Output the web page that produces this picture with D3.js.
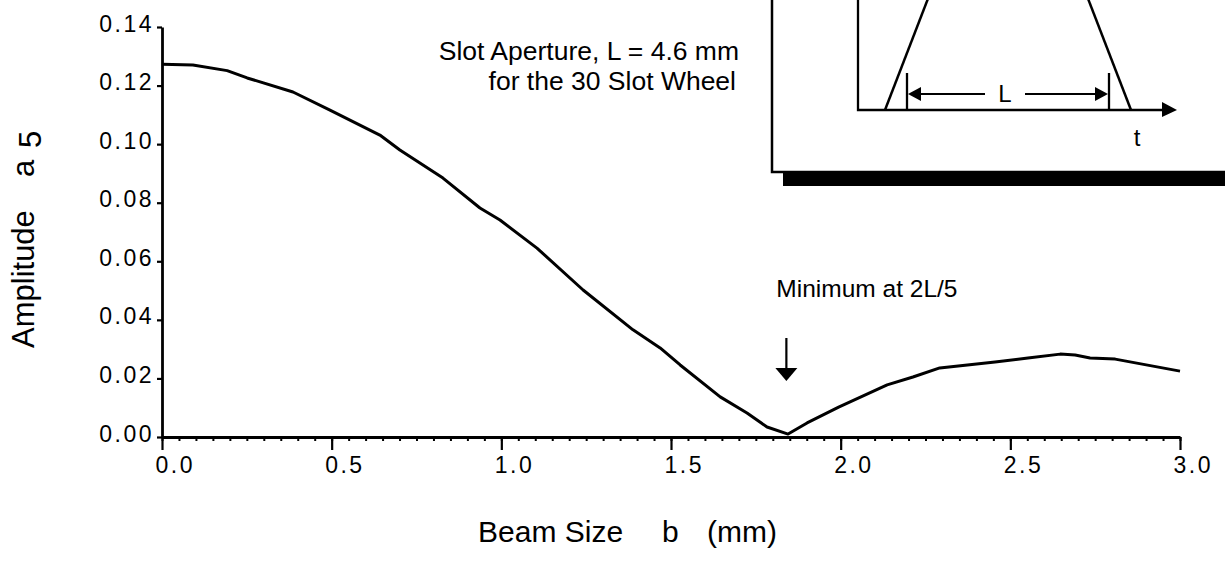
<!DOCTYPE html>
<html>
<head>
<meta charset="utf-8">
<script src="https://cdn.jsdelivr.net/npm/d3@7"></script>
<style>
  body { margin: 0; background: #fff; }
  svg { display: block; font-family: "Liberation Sans", Arial, Helvetica, sans-serif; }
</style>
</head>
<body>
<svg width="1225" height="561"></svg>
<script>
var svg = d3.select("svg"),
    width = +svg.attr("width"),
    height = +svg.attr("height");

// beam size b (mm) and amplitude a5
var beam = [0, 0.091, 0.192, 0.251, 0.386, 0.495, 0.642, 0.701, 0.828, 0.937, 0.996,
            1.105, 1.241, 1.388, 1.468, 1.527, 1.645, 1.724, 1.783, 1.845, 1.901,
            1.994, 2.137, 2.213, 2.292, 2.455, 2.552, 2.647, 2.691, 2.735, 2.809, 3.0];
var amp  = [0.1273, 0.1270, 0.1251, 0.1226, 0.1178, 0.1116, 0.1031, 0.0980, 0.0884, 0.0782, 0.0741,
            0.0645, 0.0502, 0.0366, 0.0304, 0.0246, 0.0137, 0.0082, 0.0034, 0.0010, 0.0048,
            0.0102, 0.0178, 0.0205, 0.0236, 0.0256, 0.0270, 0.0283, 0.0280, 0.0270, 0.0266, 0.0225];

var xTicks = [0, 0.5, 1.0, 1.5, 2.0, 2.5, 3.0];
var yTicks = [0, 0.02, 0.04, 0.06, 0.08, 0.10, 0.12, 0.14];

var slotL = 4.6;   // mm, minimum expected at 2L/5

var x = d3.scaleLinear().domain([0, 3]).range([162, 1180]);
var y = d3.scaleLinear().domain([0, 0.14]).range([437, 27]);

var data = beam.map(function(b, i){ return {b: b, a: amp[i]}; });

// minor ticks on x
svg.append("g")
    .attr("transform", "translate(0," + y(0) + ")")
    .call(d3.axisBottom(x).tickValues(x.ticks(60)).tickSize(4).tickFormat("").tickSizeOuter(0))
    .call(function(g){ g.select(".domain").remove(); })
    .selectAll("line").attr("stroke-width", 2);

// major x axis
var gx = svg.append("g")
    .attr("transform", "translate(0," + y(0) + ")")
    .call(d3.axisBottom(x).tickValues(xTicks).tickSize(13).tickSizeOuter(0).tickFormat(d3.format(".1f")));
gx.select(".domain").attr("stroke-width", 2.8);
gx.selectAll(".tick line").attr("stroke-width", 2.2);
gx.selectAll("text")
    .attr("fill", "#000")
    .attr("font-size", 23)
    .attr("letter-spacing", "2.5px")
    .attr("text-anchor", "start")
    .attr("x", -7)
    .attr("y", 36)
    .attr("dy", 0);

// y axis
var gy = svg.append("g")
    .attr("transform", "translate(" + x(0) + ",0)")
    .call(d3.axisLeft(y).tickValues(yTicks).tickSize(5).tickSizeOuter(0).tickFormat(d3.format(".2f")));
gy.select(".domain").attr("stroke-width", 2.8);
gy.selectAll(".tick line").attr("stroke-width", 2.2);
gy.selectAll("text")
    .attr("fill", "#000")
    .attr("font-size", 23)
    .attr("letter-spacing", "2.5px")
    .attr("x", -8)
    .attr("dy", 4);

// curve
svg.append("path")
    .datum(data)
    .attr("fill", "none")
    .attr("stroke", "#000")
    .attr("stroke-width", 3)
    .attr("stroke-linejoin", "round")
    .attr("d", d3.line()
        .x(function(d){ return x(d.b); })
        .y(function(d){ return y(d.a); }));

// axis titles
svg.append("text")
    .attr("x", 478).attr("y", 542)
    .attr("font-size", 30)
    .text("Beam Size");
svg.append("text")
    .attr("x", 662).attr("y", 542)
    .attr("font-size", 30)
    .text("b");
svg.append("text")
    .attr("x", 707).attr("y", 542)
    .attr("font-size", 30)
    .text("(mm)");

var ytitle = svg.append("text")
    .attr("transform", "translate(34,0) rotate(-90)")
    .attr("font-size", 31);
ytitle.append("tspan").attr("x", -348).text("Amplitude");
ytitle.append("tspan").attr("x", -177).text("a");
ytitle.append("tspan").attr("x", -148).attr("dy", 7).text("5");

// annotation: aperture
svg.append("text")
    .attr("x", 739).attr("y", 60)
    .attr("text-anchor", "end")
    .attr("font-size", 26.5)
    .text("Slot Aperture, L = 4.6 mm");
svg.append("text")
    .attr("x", 736).attr("y", 90)
    .attr("text-anchor", "end")
    .attr("font-size", 26.5)
    .text("for the 30 Slot Wheel");

// annotation: minimum arrow
var xm = x(2 * slotL / 5);
svg.append("text")
    .attr("x", xm - 10).attr("y", 297)
    .attr("font-size", 24.5)
    .text("Minimum at 2L/5");
svg.append("line")
    .attr("x1", xm).attr("x2", xm)
    .attr("y1", 338).attr("y2", 370)
    .attr("stroke", "#000").attr("stroke-width", 2.2);
svg.append("path")
    .attr("d", "M" + (xm - 11) + ",368 L" + (xm + 11) + ",368 L" + xm + ",381 Z")
    .attr("fill", "#000");

// inset: trapezoid slot profile
var inset = svg.append("g");
inset.append("rect")
    .attr("x", 783).attr("y", 173)
    .attr("width", 460).attr("height", 13)
    .attr("fill", "#000");
inset.append("path")
    .attr("d", "M772,-10 V172 H1240")
    .attr("fill", "none").attr("stroke", "#000").attr("stroke-width", 2.5);

var ax0 = 858, ay0 = 110;
inset.append("path")
    .attr("d", "M" + ax0 + ",-10 V" + ay0 + " H1165")
    .attr("fill", "none").attr("stroke", "#000").attr("stroke-width", 2.3);
inset.append("path")
    .attr("d", "M1162,102 L1177,110 L1162,117 Z")
    .attr("fill", "#000");
inset.append("line")
    .attr("x1", 885).attr("y1", ay0).attr("x2", 929).attr("y2", -4)
    .attr("stroke", "#000").attr("stroke-width", 2.5);
inset.append("line")
    .attr("x1", 1131).attr("y1", ay0).attr("x2", 1087).attr("y2", -4)
    .attr("stroke", "#000").attr("stroke-width", 2.5);

// L dimension
var lx1 = 907, lx2 = 1109, ly = 94;
inset.append("line").attr("x1", lx1).attr("x2", lx1).attr("y1", 73).attr("y2", ay0)
    .attr("stroke", "#000").attr("stroke-width", 2.3);
inset.append("line").attr("x1", lx2).attr("x2", lx2).attr("y1", 73).attr("y2", ay0)
    .attr("stroke", "#000").attr("stroke-width", 2.3);
inset.append("line").attr("x1", lx1 + 8).attr("x2", 985).attr("y1", ly).attr("y2", ly)
    .attr("stroke", "#000").attr("stroke-width", 2.2);
inset.append("line").attr("x1", 1025).attr("x2", lx2 - 8).attr("y1", ly).attr("y2", ly)
    .attr("stroke", "#000").attr("stroke-width", 2.2);
inset.append("path")
    .attr("d", "M" + (lx1 + 1) + "," + ly + " L" + (lx1 + 14) + "," + (ly - 7) + " L" + (lx1 + 14) + "," + (ly + 7) + " Z")
    .attr("fill", "#000");
inset.append("path")
    .attr("d", "M" + (lx2 - 1) + "," + ly + " L" + (lx2 - 14) + "," + (ly - 7) + " L" + (lx2 - 14) + "," + (ly + 7) + " Z")
    .attr("fill", "#000");
inset.append("text")
    .attr("x", 1005).attr("y", 102)
    .attr("text-anchor", "middle")
    .attr("font-size", 24)
    .text("L");
inset.append("text")
    .attr("x", 1137).attr("y", 146)
    .attr("text-anchor", "middle")
    .attr("font-size", 24)
    .text("t");
</script>
</body>
</html>
